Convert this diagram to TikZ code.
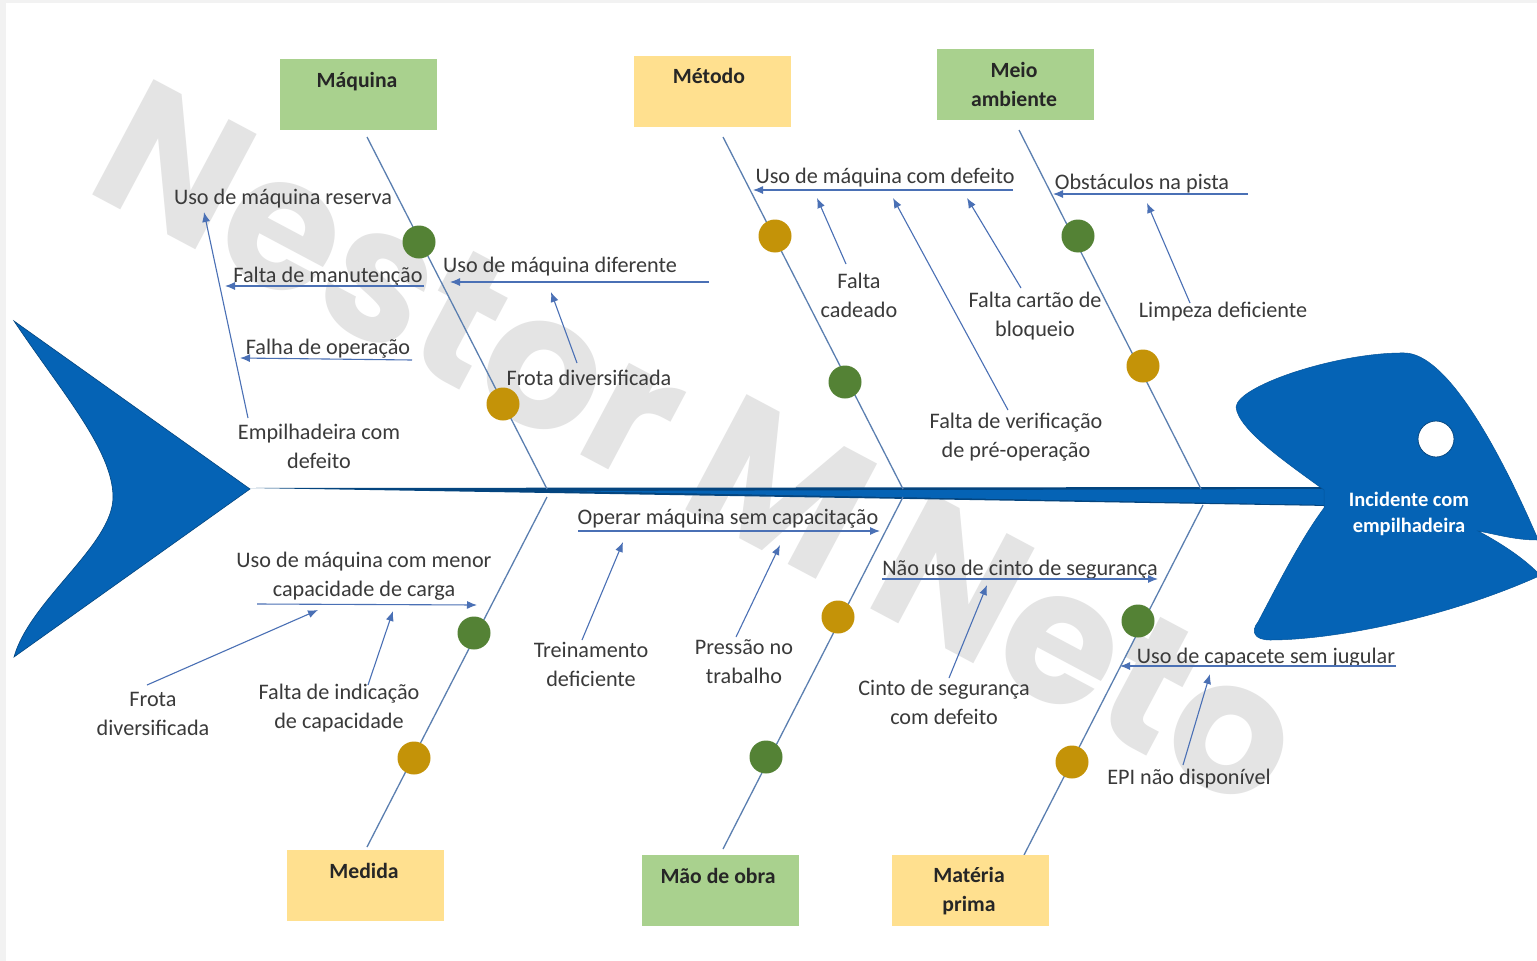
\documentclass[tikz,border=0pt]{standalone}
\usepackage{fontspec}
\setmainfont{Carlito}
\newfontfamily\wmfont{Poppins}
\definecolor{boxgreen}{HTML}{A9D18E}
\definecolor{boxyellow}{HTML}{FFE08F}
\definecolor{fishblue}{HTML}{0563B5}
\definecolor{dotgreen}{HTML}{548235}
\definecolor{dotamber}{HTML}{C49308}
\definecolor{arrowblue}{HTML}{4A70B5}
\definecolor{bonecol}{HTML}{5B7FB0}
\definecolor{txt}{HTML}{3A3A3A}
\definecolor{wm}{HTML}{E4E4E4}
\usetikzlibrary{arrows.meta}
\tikzset{
  x=1pt,y=-1pt,
  catbox/.style={rectangle,minimum width=157pt,minimum height=71pt,inner sep=0pt},
  cattext/.style={font=\fontsize{21.7}{29}\selectfont\bfseries,text=black!85,align=center,inner sep=0pt},
  lab/.style={font=\fontsize{22.2}{29}\selectfont,text=txt,align=center,inner sep=0pt},
  bone/.style={draw=bonecol,line width=1.3pt},
  cause/.style={draw=arrowblue,line width=1.1pt,-{Latex[length=10pt,width=8pt]}},
  dot/.style={circle,minimum size=33pt,inner sep=0pt},
}
\begin{document}
\begin{tikzpicture}
\useasboundingbox (0,0) rectangle (1537,961);
\fill[white] (0,0) rectangle (1537,961);
\fill[black!5] (0,0) rectangle (6,961);
\fill[black!5] (0,0) rectangle (1537,3);
% watermark
\node[font=\wmfont\fontsize{186}{186}\selectfont\bfseries,text=wm,rotate=-28,inner sep=0pt] (wmark) at (700,445) {Nestor M Neto};
% fish
\fill[fishblue,draw=fishblue!70!black,line width=.6pt] (14,321) -- (250,489) -- (14,657) .. controls (30,600) and (113,545) .. (113,497) .. controls (113,450) and (60,390) .. (14,321) -- cycle;
\fill[fishblue!70!black] (250,488) -- (1330,487) -- (1330,506) -- cycle;
\fill[fishblue] (560,491) -- (1330,489) -- (1330,505) -- cycle;
\fill[fishblue,draw=fishblue!85!black,line width=.5pt] (1324,490) .. controls (1290,465) and (1238,430) .. (1236,407) .. controls (1238,385) and (1340,352) .. (1405,353) .. controls (1445,354) and (1495,440) .. (1537,537) -- (1537,540) .. controls (1515,540) and (1495,534) .. (1478,531) .. controls (1495,540) and (1520,555) .. (1537,572) -- (1537,577) .. controls (1440,620) and (1330,640) .. (1270,640) .. controls (1255,640) and (1250,632) .. (1258,622) .. controls (1275,590) and (1300,540) .. (1324,508) -- cycle;
\node[circle,fill=white,draw=fishblue!70!black,line width=.8pt,minimum size=36pt,inner sep=0pt] (eye) at (1436,439) {};
\node[font=\fontsize{20.5}{26}\selectfont\bfseries,text=white,align=center,inner sep=0pt] (head) at (1409,514) {Incidente com\\empilhadeira};
% coordinates on the spine and free ends
\coordinate (j1) at (547,489); \coordinate (j2) at (903,489); \coordinate (j3) at (1201,489);
\coordinate (k1) at (547,497); \coordinate (k2) at (903,497); \coordinate (k3) at (1203,505);
\coordinate (b1) at (367,137); \coordinate (b2) at (723,137); \coordinate (b3) at (1019,130);
\coordinate (c1) at (367,847); \coordinate (c2) at (723,849); \coordinate (c3) at (1024,855);
% bones
\draw[bone] (b1) -- (j1);
\draw[bone] (b2) -- (j2);
\draw[bone] (b3) -- (j3);
\draw[bone] (c1) -- (k1);
\draw[bone] (c2) -- (k2);
\draw[bone] (c3) -- (k3);
% category boxes
\node[catbox,fill=boxgreen] (maq) at (358,94) {};
\node[catbox,fill=boxyellow] (met) at (712.5,91) {};
\node[catbox,fill=boxgreen] (mei) at (1015.5,84) {};
\node[catbox,fill=boxyellow] (med) at (365.5,885) {};
\node[catbox,fill=boxgreen] (mao) at (720.5,890.5) {};
\node[catbox,fill=boxyellow] (mat) at (970.5,890.5) {};
\node[cattext] (tmaq) at (357,82) {Máquina};
\node[cattext] (tmet) at (709,76) {Método};
\node[cattext] (tmei) at (1014,84.5) {Meio\\ambiente};
\node[cattext] (tmed) at (364,871) {Medida};
\node[cattext] (tmao) at (718,876) {Mão de obra};
\node[cattext] (tmat) at (969,891.5) {Matéria\\prima};
% dots
\foreach \n/\c/\p in {d1/dotgreen/{419,242},d2/dotamber/{503,404},d3/dotamber/{775,236},d4/dotgreen/{845,382},d5/dotgreen/{1078,236},d6/dotamber/{1143,366},d7/dotgreen/{474,633},d8/dotamber/{414,758},d9/dotamber/{838,617},d10/dotgreen/{766,757},d11/dotgreen/{1138,621},d12/dotamber/{1072,762}}
  \node[dot,fill=\c] (\n) at (\p) {};
% labels
\node[lab] (a1) at (283,198.5) {Uso de máquina reserva};
\node[lab] (a2) at (328,276.5) {Falta de manutenção};
\node[lab] (a3) at (328,348.5) {Falha de operação};
\node[lab] (a4) at (319,446) {Empilhadeira com\\defeito};
\node[lab] (a5) at (560,266.5) {Uso de máquina diferente};
\node[lab] (a6) at (589,378) {Frota diversificada};
\node[lab] (a7) at (885,177.5) {Uso de máquina com defeito};
\node[lab] (a8) at (859,295) {Falta\\cadeado};
\node[lab] (a9) at (1035,316.5) {Falta cartão de\\bloqueio};
\node[lab] (a10) at (1016,437.5) {Falta de verificação\\de pré-operação};
\node[lab] (a11) at (1142,183.5) {Obstáculos na pista};
\node[lab] (a12) at (1223,312) {Limpeza deficiente};
\node[lab] (a13) at (364,576.5) {Uso de máquina com menor\\capacidade de carga};
\node[lab] (a14) at (153,714) {Frota\\diversificada};
\node[lab] (a15) at (339,708.5) {Falta de indicação\\de capacidade};
\node[lab] (a16) at (728,518.5) {Operar máquina sem capacitação};
\node[lab] (a17) at (591,664) {Treinamento\\deficiente};
\node[lab] (a18) at (744,662) {Pressão no\\trabalho};
\node[lab] (a19) at (1020,569.5) {Não uso de cinto de segurança};
\node[lab] (a20) at (944,702) {Cinto de segurança\\com defeito};
\node[lab] (a21) at (1266,657.5) {Uso de capacete sem jugular};
\node[lab] (a22) at (1189,779) {EPI não disponível};
% cause arrows
\coordinate (s1) at (248,418); \coordinate (e1) at (204,212);
\coordinate (s2) at (424,286); \coordinate (e2) at (225,286);
\coordinate (s3) at (412,360); \coordinate (e3) at (240,358);
\coordinate (s4) at (709,282); \coordinate (e4) at (450,282);
\coordinate (s5) at (577,363); \coordinate (e5) at (551,292);
\coordinate (s6) at (1013,190); \coordinate (e6) at (753,190);
\coordinate (s7) at (846,264); \coordinate (e7) at (817,198);
\coordinate (s8) at (1021,288); \coordinate (e8) at (967,198);
\coordinate (s9) at (1008,410); \coordinate (e9) at (893,198);
\coordinate (s10) at (1248,194); \coordinate (e10) at (1053,194);
\coordinate (s11) at (1190,303); \coordinate (e11) at (1147,203);
\coordinate (s12) at (257,604); \coordinate (e12) at (477,605);
\coordinate (s13) at (147,685); \coordinate (e13) at (318,610);
\coordinate (s14) at (368,685); \coordinate (e14) at (393,611);
\coordinate (s15) at (578,531); \coordinate (e15) at (880,531);
\coordinate (s16) at (582,640); \coordinate (e16) at (623,542);
\coordinate (s17) at (736,637); \coordinate (e17) at (780,545);
\coordinate (s18) at (882,579); \coordinate (e18) at (1158,579);
\coordinate (s19) at (949,678); \coordinate (e19) at (987,585);
\coordinate (s20) at (1396,666); \coordinate (e20) at (1120,666);
\coordinate (s21) at (1183,765); \coordinate (e21) at (1210,674);
\foreach \i in {1,...,21} \draw[cause] (s\i) -- (e\i);
\end{tikzpicture}
\end{document}
